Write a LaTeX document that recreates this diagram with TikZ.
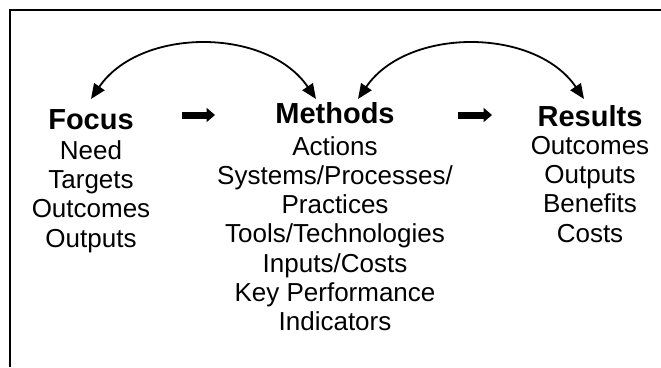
\documentclass[tikz,border=0pt]{standalone}
\usepackage{fontspec}
\setmainfont{Liberation Sans}
\usetikzlibrary{arrows.meta}
\begin{document}
\begin{tikzpicture}[x=1pt,y=-1pt,
  txt/.style={anchor=base,inner sep=0pt,font=\fontsize{26}{29}\selectfont},
  hdr/.style={anchor=base,inner sep=0pt,font=\fontsize{29}{31}\bfseries},
  blockarrow/.style={line width=7pt,-{Triangle[length=8.5pt,width=14pt]}},
  curvearrow/.style={line width=1.8pt,{Triangle[length=15pt,width=12.5pt]}-{Triangle[length=15pt,width=12.5pt]}},
  frame/.style={line width=2pt}]
\useasboundingbox (0,0) rectangle (661,367);
% frame (top and left sides)
\coordinate (fa) at (661,10);
\coordinate (fb) at (10,10);
\coordinate (fc) at (10,367);
\draw[frame] (fa) -- (fb) -- (fc);
% headers
\node[hdr] (focus) at (91,129) {Focus};
\node[hdr] (methods) at (335,123) {Methods};
\node[hdr] (results) at (590,126) {Results};
% Focus column
\foreach \t [count=\i] in {Need,Targets,Outcomes,Outputs}
  \node[txt] (f\i) at (91,{130+29.3*\i}) {\t};
% Methods column
\foreach \t [count=\i] in {Actions,Systems/Processes/,Practices,Tools/Technologies,Inputs/Costs,Key Performance,Indicators}
  \node[txt] (m\i) at (335,{126+29.2*\i}) {\t};
% Results column
\foreach \t [count=\i] in {Outcomes,Outputs,Benefits,Costs}
  \node[txt] (r\i) at (590,{125+29.3*\i}) {\t};
% block arrows
\coordinate (a1s) at (182,115);
\coordinate (a1e) at (215,115);
\coordinate (a2s) at (458,115);
\coordinate (a2e) at (492,115);
\draw[blockarrow] (a1s) -- (a1e);
\draw[blockarrow] (a2s) -- (a2e);
% curved arrows
\coordinate (c1a) at (91,99);
\coordinate (c1b) at (316,99);
\coordinate (c2a) at (358,99);
\coordinate (c2b) at (584,99);
\draw[curvearrow] (c1a) .. controls (140,27) and (267,27) .. (c1b);
\draw[curvearrow] (c2a) .. controls (407,27) and (535,27) .. (c2b);
\end{tikzpicture}
\end{document}
